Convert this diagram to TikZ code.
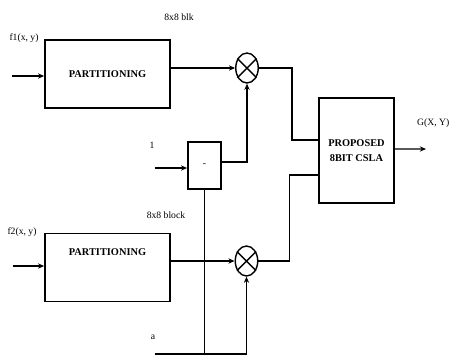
\documentclass[tikz,border=0pt]{standalone}
\usepackage{fontspec}
\setmainfont{Liberation Serif}
\usetikzlibrary{arrows.meta,positioning,shapes.geometric}

\begin{document}
\begin{tikzpicture}[x=0.02cm,y=-0.02cm,>={Stealth[length=3.5pt,width=3pt]},
 line width=0.8pt,every node/.style={inner sep=0pt},
 blockbox/.style={draw,line width=1pt,minimum width=2.5cm,minimum height=1.36cm,
  font=\fontsize{5.9}{6.8}\selectfont\bfseries},
 mult/.style={draw,ellipse,minimum width=0.45cm,minimum height=0.6cm},
 lbl/.style={font=\fontsize{5.5}{6}\selectfont}]
\useasboundingbox (0,0) rectangle (451,360);

% blocks
\node[blockbox] (part1) at (107.5,74) {PARTITIONING};
\node[blockbox,text height=0.44cm,text depth=0.92cm] (part2) at (107.5,267.5) {PARTITIONING};
\node[blockbox,minimum width=1.5cm,minimum height=2.1cm,align=center] (csla) at (356.5,150.5)
 {PROPOSED\\[1.5pt]8BIT CSLA};
\node[draw,line width=1pt,minimum width=0.66cm,minimum height=0.94cm,lbl] (minus) at (204.5,165.5) {-};
\node[mult] (m1) at (247,68) {};
\node[mult] (m2) at (246.5,261) {};
\draw (m1.45) -- (m1.225) (m1.135) -- (m1.315);
\draw (m2.45) -- (m2.225) (m2.135) -- (m2.315);

% labels
\node[lbl] (lf1) at (24,38) {f1(x, y)};
\node[lbl] (lf2) at (22,232) {f2(x, y)};
\node[lbl] (lblk1) at (179,17) {8x8 blk};
\node[lbl] (lblk2) at (166,215) {8x8 block};
\node[lbl] (lone) at (152,145) {1};
\node[lbl] (la) at (153,337) {a};
\node[lbl,anchor=east] (lout) at (450,123) {G(X, Y)};

% free ends
\coordinate (in1) at (12,76);
\coordinate (in2) at (13,266);
\coordinate (inone) at (155,168);
\coordinate (alpha) at (155,354);
\coordinate (out) at (426,149);

% connections
\draw[->] (in1) -- (part1.west |- in1);
\draw[->] (in2) -- (part2.west |- in2);
\draw[->] (part1.east |- m1.west) -- (m1.west);
\draw[->] (part2.east |- m2.west) -- (m2.west);
\draw (m1.east) -- ++(33,0) |- ([yshift=0.21cm]csla.west);
\draw (m2.east) -- ++(31,0) |- ([yshift=-0.49cm]csla.west);
\draw[->] (inone) -- (minus.west |- inone);
\draw[->] ([yshift=0.07cm]minus.east) -| (m1.south);
\draw (minus.south) -- (minus.south |- alpha);
\draw[->] (alpha) -| (m2.south);
\draw[->] ([yshift=0.03cm]csla.east) -- (out);
\end{tikzpicture}
\end{document}
